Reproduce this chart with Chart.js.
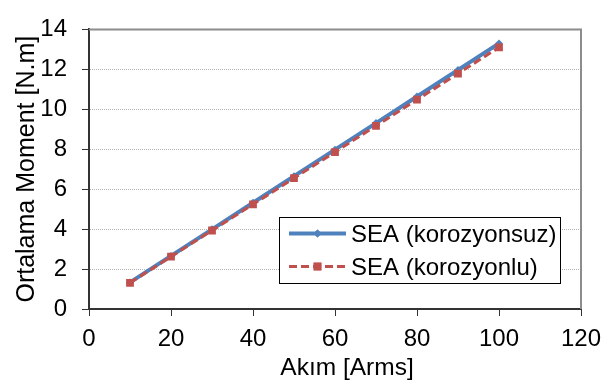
<!DOCTYPE html>
<html>
<head>
<meta charset="utf-8">
<script src="https://cdn.jsdelivr.net/npm/chart.js@4.4.0/dist/chart.umd.min.js"></script>
<style>
  body { margin: 0; background: #fff; }
  #wrap { width: 614px; height: 383px; }
</style>
</head>
<body>
<div id="wrap"><canvas id="momentChart" width="614" height="383"></canvas></div>
<script>
// akım değerleri (Arms)
const currents = [10, 20, 30, 40, 50, 60, 70, 80, 90, 100];
// ortalama moment (N.m)
const seaKorozyonsuz = [1.33, 2.66, 3.99, 5.32, 6.65, 7.98, 9.31, 10.64, 11.97, 13.30];
const seaKorozyonlu = [1.31, 2.62, 3.93, 5.24, 6.55, 7.86, 9.17, 10.48, 11.79, 13.10];

const seriesNames = ["SEA (korozyonsuz)", "SEA (korozyonlu)"];
const xTitle = "Akım [Arms]";
const yTitle = "Ortalama Moment [N.m]";

const BLUE = "#4f81bd";
const RED = "#c0504d";
const FONT = "'Liberation Sans', Arial, sans-serif";

const toPoints = (ys) => ys.map((y, i) => ({ x: currents[i], y: y }));

// plot border (top + right), x title and the legend box inside the plot
const framePlugin = {
  id: "frame",
  beforeDatasetsDraw(chart) {
    const { ctx, chartArea: a } = chart;
    ctx.save();
    ctx.strokeStyle = "#8c8c8c";
    ctx.lineWidth = 2;
    ctx.beginPath();
    ctx.moveTo(a.left, a.top);
    ctx.lineTo(a.right, a.top);
    ctx.lineTo(a.right, a.bottom);
    ctx.stroke();
    ctx.restore();
  },
  afterDraw(chart) {
    const { ctx } = chart;
    ctx.save();

    // x axis title
    ctx.fillStyle = "#000";
    ctx.font = "24.5px " + FONT;
    ctx.textAlign = "center";
    ctx.textBaseline = "alphabetic";
    ctx.fillText(xTitle, 347, 375);

    // legend
    ctx.fillStyle = "#fff";
    ctx.fillRect(279.5, 217.5, 281, 66);
    ctx.strokeStyle = "#000";
    ctx.lineWidth = 1;
    ctx.strokeRect(279.5, 217.5, 281, 66);

    const rows = [
      { y: 233.5, base: 241.5, color: BLUE, width: 4, dash: [], style: "rectRot", r: 4 },
      { y: 266.5, base: 275, color: RED, width: 3, dash: [8, 4], style: "rect", r: 5.5 }
    ];
    rows.forEach((row, i) => {
      ctx.strokeStyle = row.color;
      ctx.lineWidth = row.width;
      ctx.setLineDash(row.dash);
      ctx.beginPath();
      ctx.moveTo(289, row.y);
      ctx.lineTo(346, row.y);
      ctx.stroke();
      ctx.setLineDash([]);
      ctx.fillStyle = row.color;
      Chart.helpers.drawPoint(ctx, { pointStyle: row.style, radius: row.r, borderWidth: 0 }, 317.5, row.y);
      ctx.fill();
      ctx.fillStyle = "#000";
      ctx.font = "24px " + FONT;
      ctx.textAlign = "left";
      ctx.textBaseline = "alphabetic";
      ctx.fillText(seriesNames[i], 351, row.base);
    });
    ctx.restore();
  }
};

const data = {
  datasets: [
    {
      label: seriesNames[0],
      data: toPoints(seaKorozyonsuz),
      borderColor: BLUE,
      backgroundColor: BLUE,
      borderWidth: 4,
      pointStyle: "rectRot",
      pointRadius: 4,
      pointBorderWidth: 0,
      order: 2
    },
    {
      label: seriesNames[1],
      data: toPoints(seaKorozyonlu),
      borderColor: RED,
      backgroundColor: RED,
      borderWidth: 3,
      borderDash: [8, 4],
      pointStyle: "rect",
      pointRadius: 5.5,
      pointBorderWidth: 0,
      order: 1
    }
  ]
};

const config = {
  type: "line",
  data: data,
  options: {
    responsive: false,
    animation: false,
    devicePixelRatio: 1,
    layout: { padding: { left: 0, top: 17, right: 33, bottom: 0 } },
    plugins: {
      legend: { display: false },
      tooltip: { enabled: false }
    },
    scales: {
      x: {
        type: "linear",
        min: 0,
        max: 120,
        afterFit: (s) => { s.height = 74; },
        ticks: { stepSize: 20, color: "#000", padding: 9, font: { size: 24, family: FONT } },
        grid: { drawOnChartArea: false, drawTicks: true, tickLength: 7, tickColor: "#333", tickWidth: 1 },
        border: { color: "#333", width: 2 }
      },
      y: {
        min: 0,
        max: 14,
        afterFit: (s) => { s.width = 89; },
        ticks: { stepSize: 2, color: "#000", padding: 15, font: { size: 24, family: FONT } },
        grid: {
          color: (c) => (c.tick && (c.tick.value === 0 || c.tick.value === 14)) ? "rgba(0,0,0,0)" : "#b4b4b4",
          lineWidth: 1,
          tickLength: 7,
          tickColor: "#333",
          tickWidth: 1
        },
        border: { color: "#333", width: 2, dash: [1, 1] },
        title: {
          display: true,
          text: yTitle,
          color: "#000",
          font: { size: 25, family: FONT },
          padding: { top: 12, bottom: 0 }
        }
      }
    }
  },
  plugins: [framePlugin]
};

new Chart(document.getElementById("momentChart"), config);
</script>
</body>
</html>
